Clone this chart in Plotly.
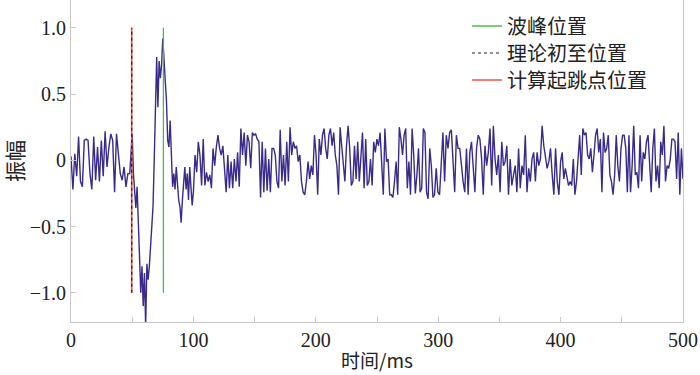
import numpy as np
import plotly.graph_objects as go

# ---- data ----
# pre-event noise, 0..48 ms
amp_0_48 = [0.03, -0.22, 0.05, -0.12, 0.18, -0.16, -0.2, 0.15, 0.16, 0.15, -0.1, -0.22,
            0.18, -0.15, 0.1, -0.16, 0.15, -0.12, 0.22, -0.05, 0.1, 0.2, 0.15, -0.24,
            0.2, 0.05, -0.1, -0.15, -0.05, -0.2, -0.1]
# event, 1 ms steps from 48 to 99 ms
t_event_start = 48
amp_event = [-0.1, 0.1, 0.2, -0.1, -0.22, -0.36, -0.2, -0.45, -0.75, -1.0,
             -0.8, -1.1, -0.85, -1.25, -0.78, -0.9, -0.8, -0.65, -0.55, -0.35,
             0.0, 0.4, 0.78, 0.4, 0.75, 0.62, 0.72, 0.92, 0.7, 0.6,
             0.45, 0.15, 0.1, 0.3, 0.05, -0.2, -0.1, -0.22, -0.05, -0.2,
             -0.3, -0.35, -0.47, -0.3, -0.2, -0.05, -0.22, -0.1, -0.3, -0.05,
             -0.2, -0.34]
amp_100_195 = [-0.24, 0.04, -0.09, 0.14, 0.04, -0.19, 0.16, -0.19, -0.09, -0.16,
               -0.11, -0.21, 0.09, -0.04, 0.10, 0.19, 0.09, 0.04, 0.11, -0.10,
               -0.24, 0.04, -0.21, -0.01, -0.21, 0.01, -0.16, 0.06, -0.20, 0.24,
               0.04, 0.21, -0.04, 0.19, 0.14, -0.06, 0.21, 0.19, 0.20, 0.16,
               0.14, -0.28, 0.14, -0.24, 0.09, -0.23, 0.01, -0.24, 0.09, 0.09,
               0.04, -0.16, -0.21, 0.23, -0.16, 0.04, -0.19, 0.14, -0.16, 0.25,
               0.04, 0.14, 0.09, 0.11, -0.01, 0.04, -0.16, -0.24, -0.26, -0.16,
               -0.01]
amp_195_297 = [-0.14, -0.04, -0.11, 0.19, 0.04, -0.26, 0.16, 0.04, 0.19, 0.24,
               0.09, 0.01, 0.19, 0.24, 0.11, 0.21, 0.04, -0.04, -0.26, 0.25,
               0.11, -0.04, -0.16, 0.11, 0.26, 0.09, -0.19, -0.16, 0.11, -0.14,
               0.14, -0.16, -0.01, 0.21, -0.21, 0.16, -0.19, -0.16, 0.01, -0.19,
               0.14, 0.06, 0.16, 0.11, 0.21, 0.01, -0.26, 0.24, -0.01, 0.01,
               -0.26, -0.26, -0.28, -0.16, -0.01, -0.26, 0.25, 0.16, 0.04, 0.19,
               0.24, -0.21, -0.01, -0.26, 0.24, 0.04, -0.25, -0.11, 0.09, -0.24,
               -0.21, 0.24, 0.21, -0.24, -0.29, 0.09, -0.04, -0.28]
amp_297_400 = [-0.26, -0.06, -0.24, -0.26, -0.01, 0.21, -0.16, 0.19, 0.09, 0.21,
               0.23, -0.04, -0.24, 0.19, 0.09, 0.09, -0.04, -0.16, -0.24, 0.09,
               -0.26, 0.06, 0.14, -0.06, -0.24, 0.09, 0.19, 0.16, 0.01, -0.26,
               0.11, -0.04, 0.06, 0.24, -0.19, 0.26, 0.01, -0.11, 0.04, -0.24,
               0.14, -0.04, -0.01, 0.11, -0.26, 0.01, -0.19, -0.11, -0.04, -0.24,
               0.09, -0.21, -0.04, -0.11, 0.19, -0.24, -0.06, -0.16, 0.01, 0.06,
               -0.16, 0.06, -0.04, 0.01, 0.26, 0.11, 0.01, -0.06, -0.01, 0.09,
               -0.11, -0.26, 0.09, -0.16, -0.26]
amp_400_500 = [-0.01, 0.06, -0.14, -0.06, -0.14, -0.19, -0.16, -0.19, 0.01, -0.26,
               -0.16, 0.01, 0.19, -0.11, 0.24, 0.19, 0.21, 0.04, 0.01, 0.09,
               -0.09, 0.04, 0.19, 0.24, 0.06, 0.16, -0.24, 0.21, 0.06, 0.09,
               0.19, -0.11, -0.16, -0.26, -0.11, 0.19, -0.04, -0.16, 0.09, 0.19,
               0.19, 0.09, -0.24, 0.19, -0.24, -0.04, 0.26, -0.11, -0.09, -0.21,
               0.19, -0.16, 0.06, 0.01, 0.14, 0.19, -0.04, -0.24, 0.09, 0.24,
               -0.16, -0.04, -0.21, 0.14, 0.04, 0.26, -0.16, -0.04, -0.06, 0.01,
               0.16, 0.16, 0.14, -0.14, 0.21, -0.26, 0.09, -0.14]

peak_ms = 75.5
theory_ms = 49.6
picked_ms = 49.6
marker_y = [-1.0, 1.0]

legend_names = ["波峰位置", "理论初至位置", "计算起跳点位置"]
x_title = "时间/ms"
y_title = "振幅"
x_ticks = [0, 100, 200, 300, 400, 500]
y_tickvals = [-1.0, -0.5, 0, 0.5, 1.0]
y_ticktext = ["\u22121.0", "\u22120.5", "0", "0.5", "1.0"]

# ---- build time axis for each piece ----
def span(vals, a, b, endpoint=False):
    return np.linspace(a, b, len(vals), endpoint=endpoint)

t = np.concatenate([
    span(amp_0_48, 0, 48),
    t_event_start + np.arange(len(amp_event)),
    span(amp_100_195, 100, 195),
    span(amp_195_297, 195, 297),
    span(amp_297_400, 297, 400),
    span(amp_400_500, 400, 500, endpoint=True),
])
a = np.concatenate([amp_0_48, amp_event, amp_100_195, amp_195_297, amp_297_400, amp_400_500])

SERIF = "Liberation Serif"
CJK = "Noto Sans CJK SC"

fig = go.Figure()
fig.add_trace(go.Scatter(x=t, y=a, mode="lines", line=dict(color="#3b2a8a", width=1.4),
                         showlegend=False, hoverinfo="skip"))
fig.add_trace(go.Scatter(x=[peak_ms, peak_ms], y=marker_y, mode="lines",
                         line=dict(color="#4cb84c", width=1.3), name=legend_names[0], legend="legend"))
fig.add_trace(go.Scatter(x=[picked_ms, picked_ms], y=marker_y, mode="lines",
                         line=dict(color="#f0533f", width=1.6), name=legend_names[2], legend="legend3"))
fig.add_trace(go.Scatter(x=[theory_ms, theory_ms], y=marker_y, mode="lines",
                         line=dict(color="#222222", width=1.2, dash="dot"), name=legend_names[1], legend="legend2"))

leg_common = dict(x=0.647, xanchor="left", yanchor="middle",
                  font=dict(family=CJK, size=20, color="#222"),
                  bgcolor="rgba(0,0,0,0)", itemwidth=30, borderwidth=0)

fig.update_layout(
    width=700, height=375,
    margin=dict(l=71, r=17, t=0, b=53),
    plot_bgcolor="white", paper_bgcolor="white",
    showlegend=True,
    legend=dict(y=1 - 26 / 322, **leg_common),
    legend2=dict(y=1 - 53 / 322, **leg_common),
    legend3=dict(y=1 - 80 / 322, **leg_common),
    font=dict(family=SERIF, size=20, color="#222"),
)
fig.update_xaxes(range=[0, 500], tickvals=x_ticks, ticks="inside", ticklen=5,
                 tickcolor="#c8c8c8", showline=True, linecolor="#c8c8c8", linewidth=1,
                 showgrid=False, zeroline=False,
                 minor=dict(dtick=50, ticks="inside", ticklen=5, tickcolor="#c8c8c8", showgrid=False),
                 tickfont=dict(family=SERIF, size=20, color="#222"))
fig.update_yaxes(range=[-1.22, 1.21], tickvals=y_tickvals, ticktext=y_ticktext,
                 ticks="inside", ticklen=5, tickcolor="#c8c8c8",
                 showline=True, mirror=True, linecolor="#c8c8c8", linewidth=1,
                 showgrid=False, zeroline=False,
                 tickfont=dict(family=SERIF, size=20, color="#222"))

fig.add_annotation(text=y_title, xref="paper", yref="paper", x=0, y=0.5,
                   xanchor="center", yanchor="middle", textangle=-90, showarrow=False,
                   font=dict(family=CJK, size=21, color="#222"), xshift=-57)
fig.add_annotation(text=x_title, xref="paper", yref="paper", x=0.5, y=0,
                   xanchor="center", yanchor="top", showarrow=False, yshift=-22,
                   font=dict(family=CJK, size=19, color="#222"))

fig.write_html("out.html", config={"displayModeBar": False},
               post_script="document.body.style.margin='0px';")
